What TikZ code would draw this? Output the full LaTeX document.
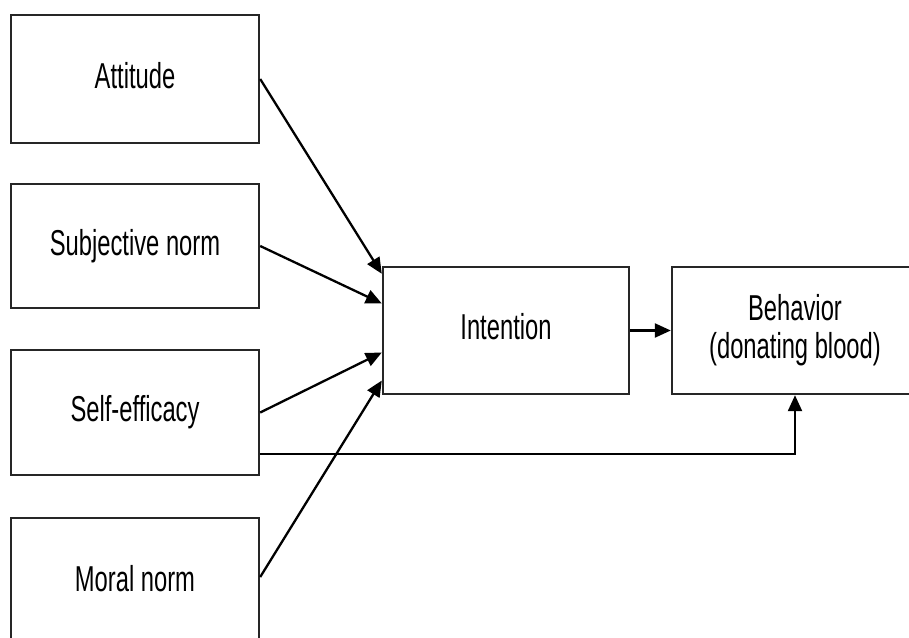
\documentclass[tikz,border=0pt]{standalone}
\usepackage{fontspec}
\setmainfont{Liberation Sans}[FakeStretch=0.66]
\usetikzlibrary{arrows.meta}
\begin{document}
\begin{tikzpicture}[x=1pt,y=-1pt,
  box/.style={draw=black!85, line width=2.4pt, minimum width=248pt, inner sep=0pt,
    font=\fontsize{36}{38}\selectfont, align=center},
  oneline/.style={text height=26pt, text depth=8pt},
  link/.style={line width=2.3pt, -{Triangle[length=16pt,width=14pt]}}]
  \useasboundingbox (0,0) rectangle (909,637);
  \clip (0,0) rectangle (909,637);
  \fill[white] (0,0) rectangle (909,637);

  % predictor boxes
  \node[box, oneline, minimum height=128pt] (att) at (135,79) {Attitude};
  \node[box, oneline, minimum height=124pt] (sub) at (135,246) {Subjective norm};
  \node[box, oneline, minimum height=125pt] (self) at (135,412.5) {Self-efficacy};
  \node[box, oneline, minimum height=128pt] (mor) at (135,582) {Moral norm};

  % intention and behaviour
  \node[box, oneline, minimum width=246pt, minimum height=127pt] (int) at (506,330.5) {Intention};
  \node[box, minimum width=246pt, minimum height=127pt] (beh) at (795,330.5)
    {Behavior\\(donating blood)};

  % paths into intention
  \draw[link] (att.east) -- ([yshift=-8pt]int.north west);
  \draw[link] (sub.east) -- ([yshift=27pt]int.west);
  \draw[link] (self.east) -- ([yshift=-22pt]int.west);
  \draw[link] ([yshift=5pt]mor.east) -- ([yshift=-50pt]int.west);

  % intention to behaviour
  \draw[link] (int.east) -- (beh.west);

  % direct path from self-efficacy to behaviour
  \draw[link] ([yshift=-41.5pt]self.east) -| (beh.south);
\end{tikzpicture}
\end{document}
